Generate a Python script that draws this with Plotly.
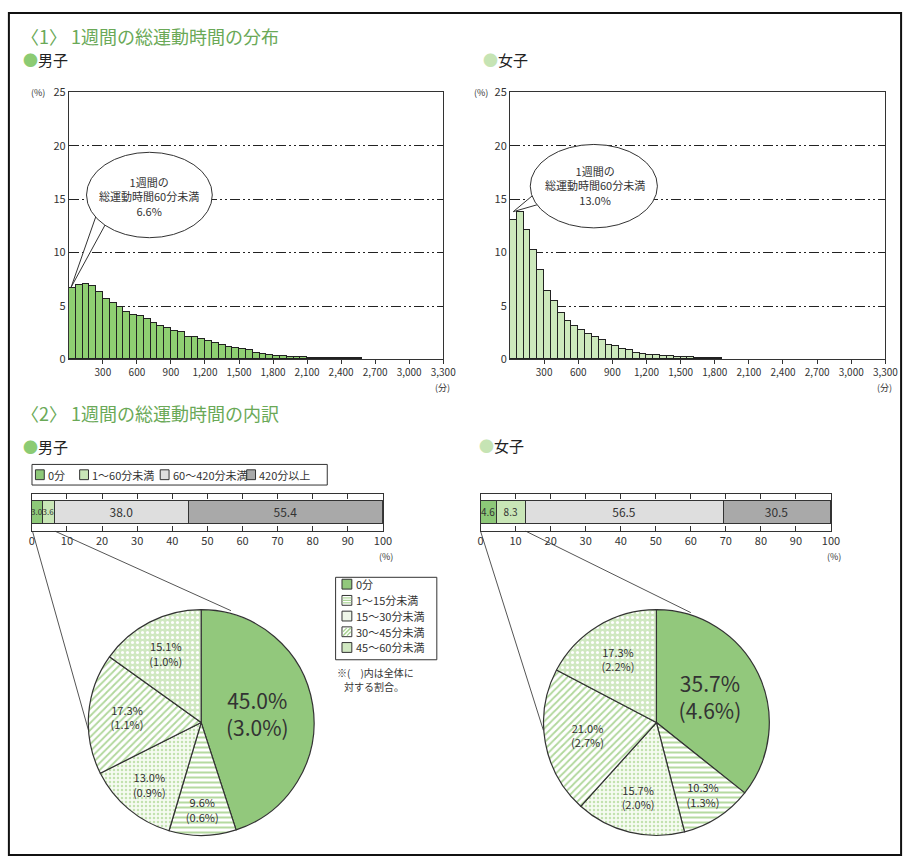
import plotly.graph_objects as go

W, H = 919, 866
FONT = "Noto Sans CJK JP"
DARK = "#333333"

# ---------------- data ----------------
bin_width_min = 60
male_pct = [6.6, 6.9, 7.0, 6.8, 6.3, 5.6, 5.2, 4.9, 4.4, 4.1, 4.0, 3.7, 3.4, 3.1, 2.9,
            2.6, 2.5, 2.1, 2.1, 1.9, 1.7, 1.5, 1.3, 1.1, 1.0, 0.9, 0.8, 0.6, 0.5, 0.4,
            0.3, 0.3, 0.2, 0.2, 0.2, 0.1, 0.1, 0.1, 0.1, 0.1, 0.1, 0.05, 0.05]
female_pct = [13.0, 13.8, 12.1, 10.2, 8.3, 6.4, 5.4, 4.3, 3.6, 3.1, 2.7, 2.3, 2.1, 1.8, 1.3,
              1.2, 0.9, 0.8, 0.6, 0.5, 0.4, 0.35, 0.3, 0.25, 0.2, 0.15, 0.15, 0.1, 0.1,
              0.05, 0.05]
hist_xticks = [300, 600, 900, 1200, 1500, 1800, 2100, 2400, 2700, 3000, 3300]
hist_yticks = [0, 5, 10, 15, 20, 25]

bar_categories = ["0分", "1～60分未満", "60～420分未満", "420分以上"]
male_bar = [3.0, 3.6, 38.0, 55.4]
female_bar = [4.6, 8.3, 56.5, 30.5]
bar_xticks = [0, 10, 20, 30, 40, 50, 60, 70, 80, 90, 100]

pie_labels = ["0分", "1～15分未満", "15～30分未満", "30～45分未満", "45～60分未満"]
male_pie = [45.0, 9.6, 13.0, 17.3, 15.1]
male_pie_total = [3.0, 0.6, 0.9, 1.1, 1.0]
female_pie = [35.7, 10.3, 15.7, 21.0, 17.3]
female_pie_total = [4.6, 1.3, 2.0, 2.7, 2.2]

male_under60 = 6.6
female_under60 = 13.0

# ---------------- helpers ----------------
def dx(a, b):
    return [a / W, b / W]

def dy(top, bottom):
    return [1 - bottom / H, 1 - top / H]

def px(x):
    return x / W

def py(y):
    return 1 - y / H

bar_colors = ["#8dc878", "#c9e6b7", "#dedede", "#a9a9a9"]
male_hist_color = "#8fcf72"
female_hist_color = "#cde9bc"

fig = go.Figure()

# histograms
fig.add_trace(go.Bar(
    x=[bin_width_min * i + bin_width_min / 2 for i in range(len(male_pct))], y=male_pct,
    width=bin_width_min, marker=dict(color=male_hist_color, line=dict(color="#222", width=1)),
    xaxis="x", yaxis="y", showlegend=False, hoverinfo="skip"))
fig.add_trace(go.Bar(
    x=[bin_width_min * i + bin_width_min / 2 for i in range(len(female_pct))], y=female_pct,
    width=bin_width_min, marker=dict(color=female_hist_color, line=dict(color="#222", width=1)),
    xaxis="x2", yaxis="y2", showlegend=False, hoverinfo="skip"))

# stacked bars
for vals, xa, ya in [(male_bar, "x3", "y3"), (female_bar, "x4", "y4")]:
    for cat, v, c in zip(bar_categories, vals, bar_colors):
        small = v < 10
        fig.add_trace(go.Bar(
            x=[v], y=[0], orientation="h", width=0.63, name=cat,
            marker=dict(color=c, line=dict(color=DARK, width=1)),
            text=[f"{v:.1f}"], textposition="inside", insidetextanchor="middle",
            textangle=0, constraintext="none" if small else "both",
            textfont=dict(size=(8 if v < 4 else 10) if small else 12, color=DARK, family=FONT),
            xaxis=xa, yaxis=ya, showlegend=False, hoverinfo="skip"))

# pies
pie_colors = ["#92c87c", "#ffffff", "#ffffff", "#ffffff", "#d0e8c1"]
pie_pattern = dict(
    shape=["", "-", ".", "/", "."],
    fgcolor=["#92c87c", "#b5daa0", "#c3e2b0", "#b0d79b", "#ffffff"],
    bgcolor=["#92c87c", "#ffffff", "#f6fbf2", "#ffffff", "#d0e8c1"],
    size=[8, 5, 4, 5, 5],
    solidity=[0.3, 0.4, 0.3, 0.35, 0.3],
    fillmode="replace",
)
for vals, tot, cx in [(male_pie, male_pie_total, 201.7), (female_pie, female_pie_total, 665.0)]:
    r = 115
    fig.add_trace(go.Pie(
        labels=pie_labels, values=vals, sort=False, direction="clockwise", rotation=0,
        domain=dict(x=dx(cx - r, cx + r), y=dy(727 - r, 727 + r)),
        marker=dict(colors=pie_colors, pattern=pie_pattern, line=dict(color=DARK, width=1.2)),
        text=[f"{v:.1f}%<br>({t:.1f}%)" for v, t in zip(vals, tot)],
        textinfo="text", textposition="inside", insidetextorientation="horizontal",
        textfont=dict(size=[21, 11, 11, 11, 11], color=DARK, family=FONT),
        showlegend=False, hoverinfo="skip"))

grid_dash = "10px,3px,2px,3px,2px,3px"
hist_x = dict(range=[0, 3300], tickvals=hist_xticks, tickformat=",", ticks="outside", ticklen=4,
              tickcolor=DARK, showline=True, mirror=True, linecolor=DARK, linewidth=1,
              showgrid=False, zeroline=False, tickfont=dict(size=10, color=DARK))
hist_y = dict(range=[0, 25], tickvals=hist_yticks, showline=True, mirror=True, linecolor=DARK,
              linewidth=1, showgrid=True, gridcolor="#222", gridwidth=1, griddash=grid_dash,
              zeroline=False, ticks="", tickfont=dict(size=11, color=DARK))
bar_x = dict(range=[0, 100], tickvals=bar_xticks, ticks="inside", ticklen=5, tickcolor=DARK,
             showline=True, mirror="ticks", linecolor=DARK, linewidth=1, showgrid=False,
             zeroline=False, tickfont=dict(size=11, color=DARK))
bar_y = dict(range=[-0.5, 0.5], showline=True, mirror=True, linecolor=DARK, linewidth=1,
             showticklabels=False, showgrid=False, zeroline=False, ticks="")

fig.update_layout(
    width=W, height=H, margin=dict(l=0, r=0, t=0, b=0),
    paper_bgcolor="white", plot_bgcolor="white",
    font=dict(family=FONT, color=DARK, size=11),
    barmode="stack", bargap=0, showlegend=False,
    xaxis=dict(hist_x, domain=dx(67, 448), anchor="y"),
    yaxis=dict(hist_y, domain=dy(85, 357), anchor="x"),
    xaxis2=dict(hist_x, domain=dx(516, 898), anchor="y2"),
    yaxis2=dict(hist_y, domain=dy(85, 357), anchor="x2"),
    xaxis3=dict(bar_x, domain=dx(29.3, 386.7), anchor="y3"),
    yaxis3=dict(bar_y, domain=dy(494, 532), anchor="x3"),
    xaxis4=dict(bar_x, domain=dx(486, 842.7), anchor="y4"),
    yaxis4=dict(bar_y, domain=dy(494, 532), anchor="x4"),
)

GREEN_T = "#6aa957"
LG = "#a9d393"
ann = []
def A(x, y, text, size=11, color=DARK, xanchor="center", yanchor="middle", align="center"):
    ann.append(dict(x=px(x), y=py(y), xref="paper", yref="paper", text=text, showarrow=False,
                    font=dict(size=size, color=color, family=FONT), xanchor=xanchor,
                    yanchor=yanchor, align=align))

A(16, 27, "〈1〉 1週間の総運動時間の分布", 18, GREEN_T, "left")
A(18, 51, "<span style='color:#8ccb73'>●</span>男子", 15, "#222", "left")
A(486, 51, "<span style='color:#c6e4b4'>●</span>女子", 15, "#222", "left")
A(16, 412, "〈2〉 1週間の総運動時間の内訳", 18, GREEN_T, "left")
A(18, 446, "<span style='color:#8ccb73'>●</span>男子", 15, "#222", "left")
A(482, 445, "<span style='color:#c6e4b4'>●</span>女子", 15, "#222", "left")
A(36, 85, "(%)", 9)
A(486, 85, "(%)", 9)
A(447, 386, "(分)", 9)
A(897, 386, "(分)", 9)
A(390, 558, "(%)", 9)
A(846, 558, "(%)", 9)
A(149, 191, f"1週間の<br>総運動時間60分未満<br>{male_under60:.1f}%", 11)
A(602, 180, f"1週間の<br>総運動時間60分未満<br>{female_under60:.1f}%", 11)
A(338, 676, "※(　)内は全体に", 10, DARK, "left")
A(345, 690, "対する割合。", 10, DARK, "left")

shapes = []
# outer frame
shapes.append(dict(type="rect", xref="paper", yref="paper", x0=px(6), y0=py(4), x1=px(914),
                   y1=py(862), line=dict(color="#111", width=2), fillcolor="rgba(0,0,0,0)"))

def rect(x0, y0, x1, y1, fill, lc=DARK, lw=1):
    shapes.append(dict(type="rect", xref="paper", yref="paper", x0=px(x0), x1=px(x1),
                       y0=py(y1), y1=py(y0), line=dict(color=lc, width=lw), fillcolor=fill))

def seg(x0, y0, x1, y1, color, w=1):
    shapes.append(dict(type="line", xref="paper", yref="paper", x0=px(x0), y0=py(y0),
                       x1=px(x1), y1=py(y1), line=dict(color=color, width=w)))

# legend for stacked bars (manual, horizontal)
rect(29.5, 464, 330, 485, "white")
for cat, c, sx in zip(bar_categories, bar_colors, [33, 78, 160, 248]):
    rect(sx, 469.5, sx + 9, 479.5, c)
    A(sx + 11, 474.5, cat, 11, DARK, "left")

# legend for pies (manual, vertical)
rect(338.5, 579, 441.5, 663, "white")
rows = [586, 602.5, 618.5, 634.5, 650.5]
swatch_fill = ["#92c87c", "#ffffff", "#eef6e8", "#ffffff", "#d0e8c1"]
for lab, yy, f in zip(pie_labels, rows, swatch_fill):
    x0, x1, y0, y1 = 345, 355, yy - 5, yy + 5
    rect(x0, y0, x1, y1, f)
    A(357, yy, lab, 11, DARK, "left")
    if lab == pie_labels[1]:
        for k in (2.5, 5, 7.5):
            seg(x0 + 0.5, y0 + k, x1 - 0.5, y0 + k, LG, 1.2)
    if lab == pie_labels[3]:
        seg(x0 + 1, y1 - 1, x1 - 1, y0 + 1, LG, 1.5)
        seg(x0 + 1, y0 + 5, x0 + 5, y0 + 1, LG, 1.2)
        seg(x1 - 5, y1 - 1, x1 - 1, y1 - 5, LG, 1.2)

# callouts
def callout(cx, cy, a, b, tip, b1, b2):
    shapes.append(dict(type="path", xref="paper", yref="paper",
                       path=f"M{px(b1[0])},{py(b1[1])} L{px(tip[0])},{py(tip[1])} L{px(b2[0])},{py(b2[1])} Z",
                       fillcolor="white", line=dict(color=DARK, width=1), layer="above"))
    shapes.append(dict(type="circle", xref="paper", yref="paper", x0=px(cx - a), x1=px(cx + a),
                       y0=py(cy + b), y1=py(cy - b), fillcolor="white",
                       line=dict(color=DARK, width=1), layer="above"))
callout(149, 189.5, 64, 43.5, (69.3, 283.5), (95, 210), (105, 218))
callout(601.3, 180.5, 64.7, 42.5, (519.3, 206.5), (545, 185), (552, 197))
# zoom lines
for (x0, y0, x1, y1) in [(30, 532, 87, 735), (52.9, 532, 232, 613),
                         (486, 532, 550, 735), (532, 532, 700, 615)]:
    shapes.append(dict(type="line", xref="paper", yref="paper", x0=px(x0), y0=py(y0),
                       x1=px(x1), y1=py(y1), line=dict(color="#555", width=1), layer="below"))

fig.update_layout(annotations=ann, shapes=shapes)
fig.write_html("out.html")
